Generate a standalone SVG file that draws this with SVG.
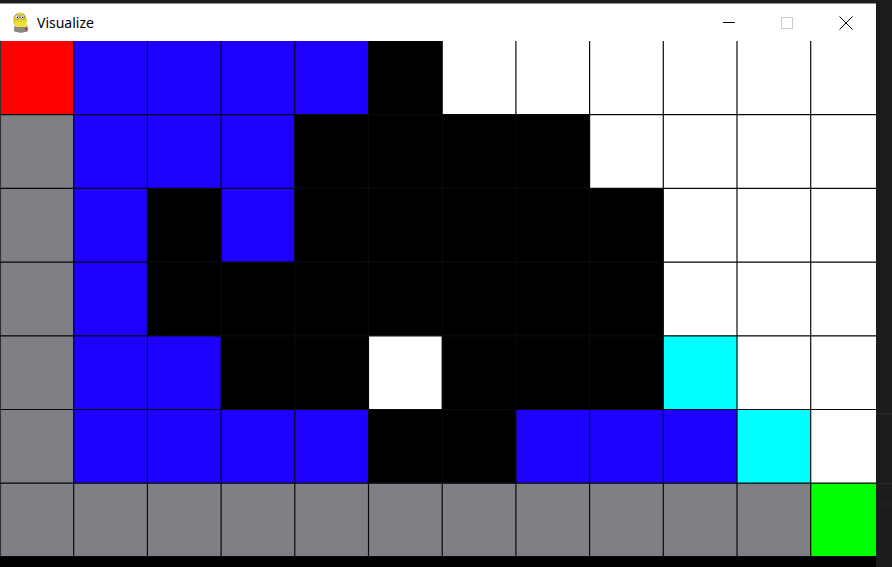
<svg xmlns="http://www.w3.org/2000/svg" width="892" height="567" viewBox="0 0 892 567">
<style>
.r{fill:#ff0000}.b{fill:#1e00ff}.k{fill:#000000}.w{fill:#ffffff}.g{fill:#7f7f86}.c{fill:#00ffff}.n{fill:#00ff00}
.grid line{stroke:#0a0a0a;stroke-width:1.2}
.title{font-family:"Noto Sans","Open Sans",sans-serif;font-size:14px;fill:#000}
</style>
<rect x="0" y="0" width="892" height="567" fill="#1c1c1c"/>
<rect id="titlebar" x="0" y="3.5" width="876" height="37.5" fill="#ffffff"/>
<g id="icon">
<ellipse cx="21" cy="28" rx="7" ry="5" fill="#9a9a8c"/>
<ellipse cx="20" cy="20" rx="7" ry="7.5" fill="#e8d22a"/>
<ellipse cx="21" cy="25" rx="6" ry="3.5" fill="#f3df3c"/>
<circle cx="17" cy="17" r="2.2" fill="#fff" stroke="#555" stroke-width="0.6"/>
<circle cx="22.5" cy="17" r="2.2" fill="#fff" stroke="#555" stroke-width="0.6"/>
<circle cx="17.5" cy="17.3" r="0.8" fill="#000"/>
<circle cx="22.8" cy="17.3" r="0.8" fill="#000"/>
<rect x="14" y="27" width="14" height="5" rx="2" fill="#8a8a80"/>
<circle cx="26" cy="29" r="1.2" fill="#c03030"/>
</g>
<text class="title" x="37" y="28">Visualize</text>
<g id="controls" fill="none" stroke-width="1">
<line x1="723" y1="22.5" x2="735" y2="22.5" stroke="#000"/>
<rect x="781.5" y="17.5" width="11" height="11" stroke="#cccccc"/>
<path d="M839.5 16.5 L852.5 29.5 M852.5 16.5 L839.5 29.5" stroke="#000"/>
</g>
<rect x="0" y="41" width="876" height="526" fill="#000000"/>
<svg x="0" y="41" width="876" height="516" viewBox="0 0 876 516" overflow="hidden">
<g id="cells">
<!-- row 0 -->
<rect class="r" x="0" y="0" width="73.7" height="73.7"/>
<rect class="b" x="73.7" y="0" width="294.8" height="73.7"/>
<rect class="k" x="368.5" y="0" width="73.7" height="73.7"/>
<rect class="w" x="442.2" y="0" width="442.2" height="73.7"/>
<!-- row 1 -->
<rect class="g" x="0" y="73.7" width="73.7" height="73.7"/>
<rect class="b" x="73.7" y="73.7" width="221.1" height="73.7"/>
<rect class="k" x="294.8" y="73.7" width="294.8" height="73.7"/>
<rect class="w" x="589.6" y="73.7" width="294.8" height="73.7"/>
<!-- row 2 -->
<rect class="g" x="0" y="147.4" width="73.7" height="73.7"/>
<rect class="b" x="73.7" y="147.4" width="73.7" height="73.7"/>
<rect class="k" x="147.4" y="147.4" width="73.7" height="73.7"/>
<rect class="b" x="221.1" y="147.4" width="73.7" height="73.7"/>
<rect class="k" x="294.8" y="147.4" width="368.5" height="73.7"/>
<rect class="w" x="663.3" y="147.4" width="221.1" height="73.7"/>
<!-- row 3 -->
<rect class="g" x="0" y="221.1" width="73.7" height="73.7"/>
<rect class="b" x="73.7" y="221.1" width="73.7" height="73.7"/>
<rect class="k" x="147.4" y="221.1" width="515.9" height="73.7"/>
<rect class="w" x="663.3" y="221.1" width="221.1" height="73.7"/>
<!-- row 4 -->
<rect class="g" x="0" y="294.8" width="73.7" height="73.7"/>
<rect class="b" x="73.7" y="294.8" width="147.4" height="73.7"/>
<rect class="k" x="221.1" y="294.8" width="147.4" height="73.7"/>
<rect class="w" x="368.5" y="294.8" width="73.7" height="73.7"/>
<rect class="k" x="442.2" y="294.8" width="221.1" height="73.7"/>
<rect class="c" x="663.3" y="294.8" width="73.7" height="73.7"/>
<rect class="w" x="737" y="294.8" width="147.4" height="73.7"/>
<!-- row 5 -->
<rect class="g" x="0" y="368.5" width="73.7" height="73.7"/>
<rect class="b" x="73.7" y="368.5" width="294.8" height="73.7"/>
<rect class="k" x="368.5" y="368.5" width="147.4" height="73.7"/>
<rect class="b" x="515.9" y="368.5" width="221.1" height="73.7"/>
<rect class="c" x="737" y="368.5" width="73.7" height="73.7"/>
<rect class="w" x="810.7" y="368.5" width="73.7" height="73.7"/>
<!-- row 6 -->
<rect class="g" x="0" y="442.2" width="810.7" height="73.7"/>
<rect class="n" x="810.7" y="442.2" width="73.7" height="73.7"/>
</g>
<g class="grid" id="gridlines">
<line x1="0.5" y1="0" x2="0.5" y2="516" style="stroke:#333"/>
<line x1="73.7" y1="0" x2="73.7" y2="516"/>
<line x1="147.4" y1="0" x2="147.4" y2="516"/>
<line x1="221.1" y1="0" x2="221.1" y2="516"/>
<line x1="294.8" y1="0" x2="294.8" y2="516"/>
<line x1="368.5" y1="0" x2="368.5" y2="516"/>
<line x1="442.2" y1="0" x2="442.2" y2="516"/>
<line x1="515.9" y1="0" x2="515.9" y2="516"/>
<line x1="589.6" y1="0" x2="589.6" y2="516"/>
<line x1="663.3" y1="0" x2="663.3" y2="516"/>
<line x1="737" y1="0" x2="737" y2="516"/>
<line x1="810.7" y1="0" x2="810.7" y2="516"/>
<line x1="0" y1="73.7" x2="876" y2="73.7"/>
<line x1="0" y1="147.4" x2="876" y2="147.4"/>
<line x1="0" y1="221.1" x2="876" y2="221.1"/>
<line x1="0" y1="294.8" x2="876" y2="294.8"/>
<line x1="0" y1="368.5" x2="876" y2="368.5"/>
<line x1="0" y1="442.2" x2="876" y2="442.2"/>
<line x1="0" y1="515.5" x2="876" y2="515.5"/>
</g>
</svg>
<g id="rightedge" stroke="#262626" stroke-width="1">
<line x1="876" y1="414" x2="892" y2="414"/>
<line x1="876" y1="483.5" x2="892" y2="483.5"/>
<line x1="876" y1="504" x2="892" y2="504"/>
</g>
</svg>
